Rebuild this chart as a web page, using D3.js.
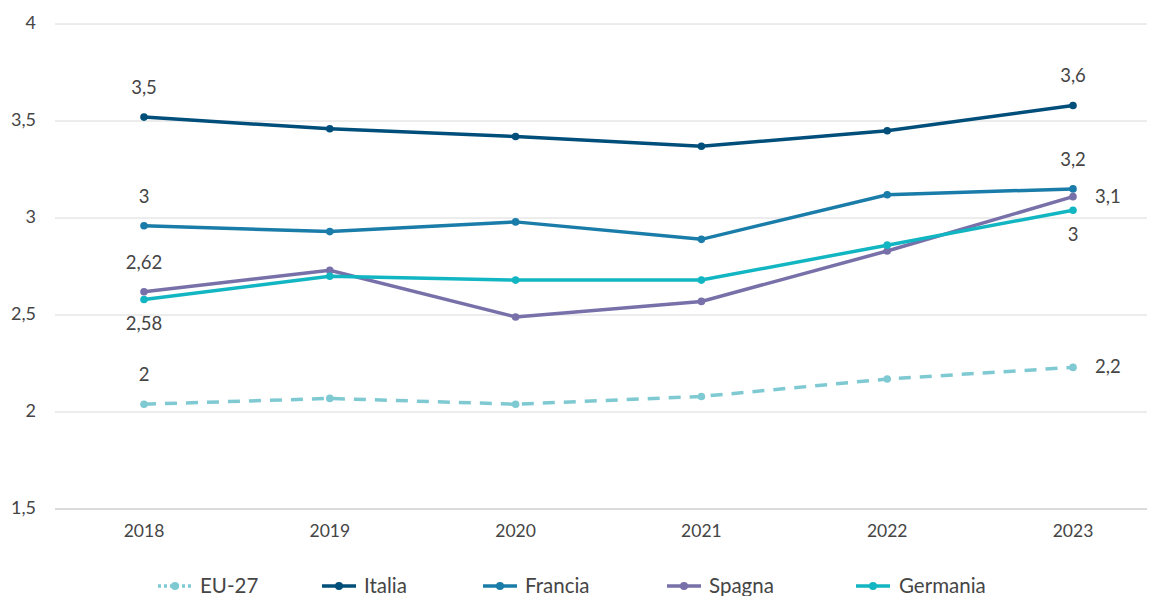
<!DOCTYPE html>
<html>
<head>
<meta charset="utf-8">
<script src="https://cdn.jsdelivr.net/npm/d3@7"></script>
<style>
  body { margin: 0; background: #fff; }
  text { font-family: Lato, "Noto Sans", sans-serif; fill: #454545; }
</style>
</head>
<body>
<div id="chart"></div>
<script>
// categories and values
var years = ["2018", "2019", "2020", "2021", "2022", "2023"];
var yTicks = [1.5, 2, 2.5, 3, 3.5, 4];

var eu27     = [2.04, 2.07, 2.04, 2.08, 2.17, 2.23];
var italia   = [3.52, 3.46, 3.42, 3.37, 3.45, 3.58];
var francia  = [2.96, 2.93, 2.98, 2.89, 3.12, 3.15];
var spagna   = [2.62, 2.73, 2.49, 2.57, 2.83, 3.11];
var germania = [2.58, 2.70, 2.68, 2.68, 2.86, 3.04];

// data labels shown on the chart (series, year index, text, placement)
var labels = [
    {s:"Italia", i:0, text:"3,5", pos:"above"},
    {s:"Italia", i:5, text:"3,6", pos:"above"},
    {s:"Francia", i:0, text:"3", pos:"above"},
    {s:"Francia", i:5, text:"3,2", pos:"above"},
    {s:"Spagna", i:0, text:"2,62", pos:"above"},
    {s:"Spagna", i:5, text:"3,1", pos:"right"},
    {s:"Germania", i:0, text:"2,58", pos:"below"},
    {s:"Germania", i:5, text:"3", pos:"below"},
    {s:"EU-27", i:0, text:"2", pos:"above"},
    {s:"EU-27", i:5, text:"2,2", pos:"right"}
];

var series = [
    {name:"EU-27", values:eu27, color:"#7fcad2", dashed:true},
    {name:"Italia", values:italia, color:"#004e7a", dashed:false},
    {name:"Francia", values:francia, color:"#1a7ca8", dashed:false},
    {name:"Spagna", values:spagna, color:"#7770a9", dashed:false},
    {name:"Germania", values:germania, color:"#12b6c2", dashed:false}
];

var legendX = [158, 322, 483, 667, 856];

var svg = d3.select("#chart").append("svg")
    .attr("width", 1157)
    .attr("height", 596);

var x = d3.scalePoint().domain(years).range([144, 1073]);
var y = d3.scaleLinear().domain([1.5, 4]).range([509, 24]);

// gridlines
svg.selectAll()
    .data(yTicks).enter()
    .append("line")
    .attr("x1", 55)
    .attr("x2", 1147)
    .attr("y1", d => y(d))
    .attr("y2", d => y(d))
    .style("stroke", d => d == 1.5 ? "#cfcfcf" : "#dadada")
    .style("stroke-width", d => d == 1.5 ? 1.5 : 1);

// y tick labels
svg.selectAll()
    .data(yTicks).enter()
    .append("text")
    .attr("x", 36)
    .attr("y", d => y(d))
    .attr("dy", "0.3em")
    .attr("text-anchor", "end")
    .style("font-size", "18px")
    .text(d => String(d).replace(".", ","));

// x tick labels
svg.selectAll()
    .data(years).enter()
    .append("text")
    .attr("x", d => x(d))
    .attr("y", 537)
    .attr("text-anchor", "middle")
    .style("font-size", "17.5px")
    .text(d => d);

var line = d3.line()
    .x((d, i) => x(years[i]))
    .y(d => y(d));

series.forEach(function(s){
    svg.append("path")
        .datum(s.values)
        .attr("d", line)
        .style("fill", "none")
        .style("stroke", s.color)
        .style("stroke-width", 3.5)
        .style("stroke-dasharray", s.dashed ? "12,9" : null);
    svg.selectAll()
        .data(s.values).enter()
        .append("circle")
        .attr("cx", (d, i) => x(years[i]))
        .attr("cy", d => y(d))
        .attr("r", 3.8)
        .style("fill", s.color);
});

// data labels
labels.forEach(function(l){
    var s = series.find(e => e.name == l.s);
    var px = x(years[l.i]);
    var py = y(s.values[l.i]);
    var t = svg.append("text")
        .style("font-size", "18.5px")
        .text(l.text);
    if (l.pos == "above") {
        t.attr("x", px).attr("y", py - 23).attr("text-anchor", "middle");
    } else if (l.pos == "below") {
        t.attr("x", px).attr("y", py + 31).attr("text-anchor", "middle");
    } else {
        t.attr("x", px + 22).attr("y", py + 6).attr("text-anchor", "start");
    }
});

// legend
series.forEach(function(s, k){
    var lx = legendX[k];
    var ly = 586;
    svg.append("line")
        .attr("x1", lx)
        .attr("x2", lx + 34)
        .attr("y1", ly)
        .attr("y2", ly)
        .style("stroke", s.color)
        .style("stroke-width", 3.5)
        .style("stroke-dasharray", s.dashed ? "3,3" : null);
    svg.append("circle")
        .attr("cx", lx + 17)
        .attr("cy", ly)
        .attr("r", 4)
        .style("fill", s.color);
    svg.append("text")
        .attr("x", s.name == "Germania" ? lx + 43 : lx + 42)
        .attr("y", ly + 7)
        .style("font-size", "20.5px")
        .text(s.name);
});
</script>
</body>
</html>
